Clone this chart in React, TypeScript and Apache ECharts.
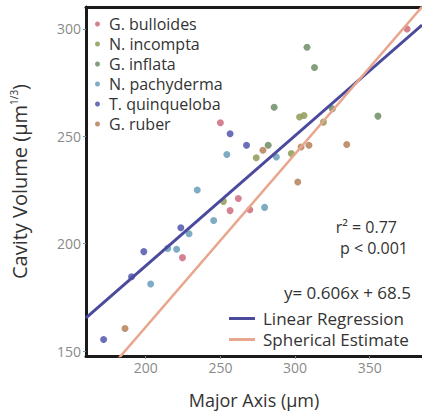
import React, { useEffect, useRef } from "react";
import * as echarts from "echarts";

const speciesNames = ["G. bulloides", "N. incompta", "G. inflata", "N. pachyderma", "T. quinqueloba", "G. ruber"];
const speciesColors = ["#cf7486", "#96a05e", "#76926f", "#6fa3bd", "#5a5fb0", "#b98764"];

const gBulloides = [[375, 300], [250, 256.3], [262, 221], [256.5, 215.4], [269.7, 215.8], [224.6, 193.5]];
const nIncompta = [[303, 259], [306, 259.7], [319, 256.6], [274, 240], [297.5, 242], [252, 219.7]];
const gInflata = [[308, 291.5], [313, 282], [286, 263.5], [355.5, 259.4], [325, 262.8], [282, 245.8]];
const nPachyderma = [[254.3, 241.5], [287.5, 240.4], [234.5, 225], [279.6, 216.9], [245.5, 210.8], [229, 204.6], [214.7, 197.8], [220.7, 197.4], [203.3, 181.2]];
const tQuinqueloba = [[256.5, 251.2], [267.5, 245.8], [223.5, 207.4], [198.7, 196.3], [190.5, 184.6], [171.8, 155.4]];
const gRuber = [[278.5, 243.5], [304, 245], [309.3, 245.8], [334.6, 246.2], [301.8, 228.7], [186.1, 160.5]];
const speciesData = [gBulloides, nIncompta, gInflata, nPachyderma, tQuinqueloba, gRuber];

const xRange = [160, 385];
const yRange = [147.7, 310.2];
const xTicks = [200, 250, 300, 350];
const yTicks = [150, 200, 250, 300];

const regSlope = 0.606;
const regIntercept = 68.5;
const sphericalFactor = 0.806;

const lineNames = ["Linear Regression", "Spherical Estimate"];
const lineColors = ["#4b4a9c", "#e9a68e"];

const FONT = "Open Sans";

export default function App() {
  const ref = useRef<HTMLDivElement>(null);
  useEffect(() => {
    document.body.style.margin = "0";
    const chart = echarts.init(ref.current!, null, { renderer: "svg" });
    const axisLineStyle = { color: "#1a1a1a", width: 3 };
    const tickLabel = {
      color: "#8a8a8a",
      fontFamily: FONT,
      fontSize: 14,
    };
    const scatterSeries = speciesNames.map((name, i) => ({
      name,
      type: "scatter",
      data: speciesData[i],
      symbolSize: 7,
      itemStyle: { color: speciesColors[i], opacity: 0.9 },
      z: 3,
    }));
    const lineSeries = [
      {
        name: lineNames[0],
        type: "line",
        data: xRange.map((x) => [x, regSlope * x + regIntercept]),
        showSymbol: false,
        lineStyle: { color: lineColors[0], width: 3 },
        itemStyle: { color: lineColors[0] },
        z: 4,
        clip: true,
      },
      {
        name: lineNames[1],
        type: "line",
        data: xRange.map((x) => [x, sphericalFactor * x]),
        showSymbol: false,
        lineStyle: { color: lineColors[1], width: 2.5 },
        itemStyle: { color: lineColors[1] },
        z: 4,
        clip: true,
      },
    ];
    const annoFont = `16px "${FONT}"`;
    chart.setOption({
      animation: false,
      backgroundColor: "#ffffff",
      grid: { left: 86, right: 0, top: 7, bottom: 55 },
      xAxis: [
        {
          type: "value",
          min: xRange[0],
          max: xRange[1],
          minInterval: 50,
          maxInterval: 50,
          name: "Major Axis (µm)",
          nameLocation: "middle",
          nameGap: 35,
          nameTextStyle: { color: "#333", fontFamily: FONT, fontSize: 18 },
          axisLine: { show: true, lineStyle: axisLineStyle },
          axisTick: { show: true, length: 3, lineStyle: { color: "#888", width: 1 } },
          axisLabel: {
            ...tickLabel,
            margin: 4,
            showMinLabel: false,
            showMaxLabel: false,
            formatter: (v: number) => (xTicks.includes(v) ? String(v) : ""),
          },
          splitLine: { show: false },
        },
        {
          type: "value",
          position: "top",
          min: xRange[0],
          max: xRange[1],
          axisLine: { show: true, lineStyle: axisLineStyle },
          axisTick: { show: false },
          axisLabel: { show: false },
          splitLine: { show: false },
        },
      ],
      yAxis: {
        type: "value",
        min: yRange[0],
        max: yRange[1],
        minInterval: 50,
        maxInterval: 50,
        name: "Cavity Volume (µm{sup|1/3})",
        nameLocation: "middle",
        nameGap: 56,
        nameTextStyle: {
          color: "#333",
          fontFamily: FONT,
          fontSize: 20,
          rich: { sup: { fontSize: 10, fontFamily: FONT, color: "#333", verticalAlign: "top", padding: [0, 0, 11, 0] } },
        },
        axisLine: { show: true, lineStyle: axisLineStyle },
        axisTick: { show: true, length: 3, lineStyle: { color: "#888", width: 1 } },
        axisLabel: {
          ...tickLabel,
          margin: 5,
          showMinLabel: false,
          showMaxLabel: false,
          formatter: (v: number) => (yTicks.includes(v) ? String(v) : ""),
        },
        splitLine: { show: false },
      },
      legend: [
        {
          data: speciesNames.map((n) => ({ name: n, icon: "circle" })),
          orient: "vertical",
          left: 95,
          top: 14,
          padding: 0,
          itemGap: 0,
          itemWidth: 5,
          itemHeight: 5,
          selectedMode: false,
          textStyle: { color: "#333", fontFamily: FONT, fontSize: 16, lineHeight: 20, padding: [0, 0, 0, 4] },
        },
        {
          data: lineNames.map((n) => ({ name: n, icon: "rect" })),
          orient: "vertical",
          left: 229,
          top: 308,
          padding: 0,
          itemGap: 0,
          itemWidth: 26,
          itemHeight: 3,
          selectedMode: false,
          textStyle: { color: "#333", fontFamily: FONT, fontSize: 17, lineHeight: 21, padding: [0, 0, 0, 3] },
        },
      ],
      graphic: [
        { type: "text", x: 397, y: 227, style: { text: "r² = 0.77", fill: "#333", font: annoFont, textAlign: "right", textVerticalAlign: "middle" } },
        { type: "text", x: 408, y: 248, style: { text: "p < 0.001", fill: "#333", font: annoFont, textAlign: "right", textVerticalAlign: "middle" } },
        { type: "text", x: 411, y: 292, style: { text: "y= 0.606x + 68.5", fill: "#333", font: `17px "${FONT}"`, textAlign: "right", textVerticalAlign: "middle" } },
      ],
      series: [...scatterSeries, ...lineSeries],
    });
    return () => chart.dispose();
  }, []);
  return <div ref={ref} style={{ width: 422, height: 414 }} />;
}
